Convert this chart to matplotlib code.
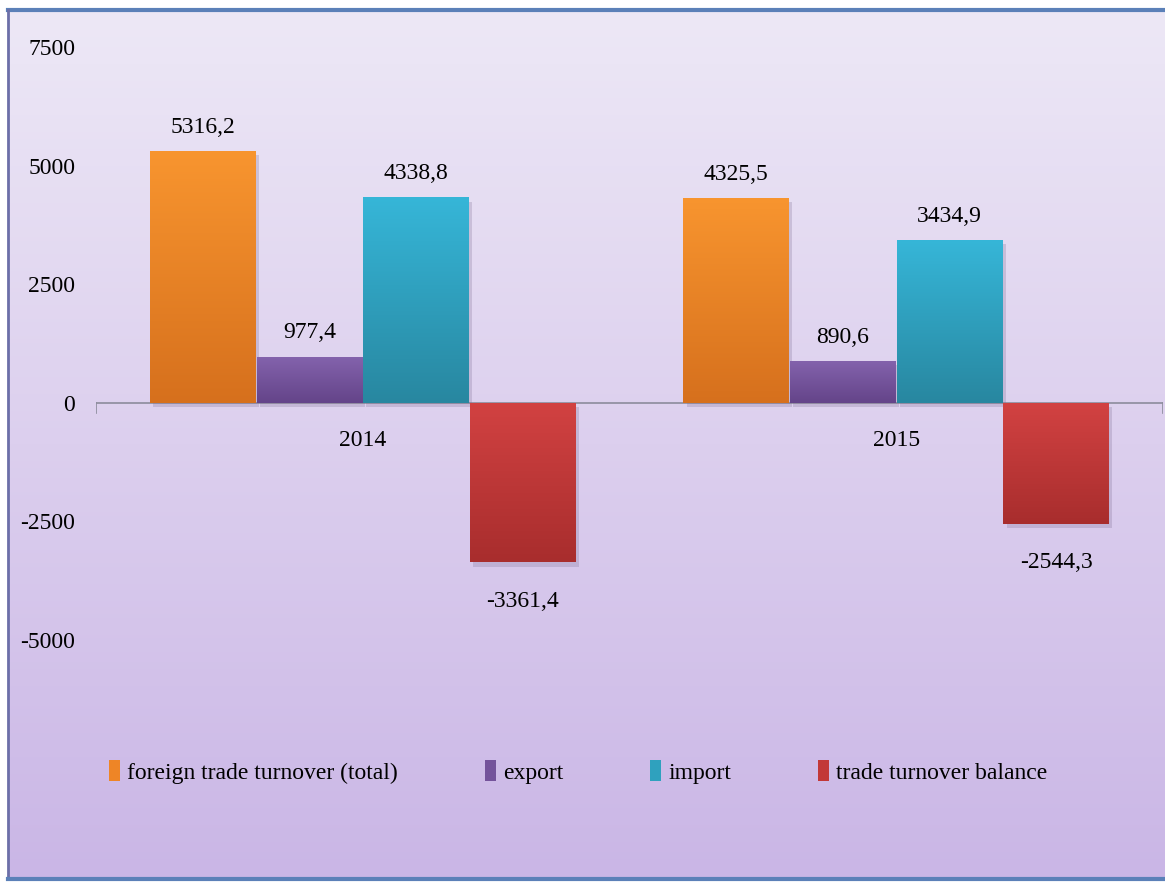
import numpy as np
import matplotlib
matplotlib.use("Agg")
from matplotlib import pyplot as plt
from matplotlib.patches import Patch, Rectangle
from matplotlib.colors import LinearSegmentedColormap

plt.rcParams['font.family'] = ['Liberation Serif', 'DejaVu Serif']

years = ["2014", "2015"]
series_names = ["foreign trade turnover (total)", "export", "import", "trade turnover balance"]
turnover = [5316.2, 4325.5]
export = [977.4, 890.6]
imports = [4338.8, 3434.9]
balance = [-3361.4, -2544.3]
yticks = [-5000, -2500, 0, 2500, 5000, 7500]

# top / bottom colours of each bar gradient
top_colors = ["#F8952F", "#8463AD", "#36B6D8", "#D24242"]
bottom_colors = ["#D6701D", "#644489", "#2887A0", "#A82D2D"]
mid_colors = ["#EE8526", "#74539B", "#2FA1BE", "#C23838"]

fig = plt.figure(figsize=(11.65, 8.82), dpi=100)

# background panel with gradient and blue frame
bg = fig.add_axes([0, 0, 1, 1], zorder=-10)
bg.set_xlim(0, 1165)
bg.set_ylim(882, 0)
bg.axis("off")
grad = np.linspace(0, 1, 256).reshape(-1, 1)
bg_cmap = LinearSegmentedColormap.from_list("bg", ["#EDE8F6", "#DCCFEE", "#CAB6E6"])
bg.imshow(grad, cmap=bg_cmap, extent=[8, 1165, 879, 10], aspect="auto")
bg.plot([8, 1165], [10, 10], color="#5B80B8", lw=3)
bg.plot([8, 8], [10, 879], color="#6C6FA8", lw=2)
bg.plot([8, 1165], [879, 879], color="#5B80B8", lw=3)

ax = fig.add_axes([96 / 1165, 1 - 758.5 / 882, 1067 / 1165, (758.5 - 23.8) / 882])
ax.patch.set_alpha(0)
for s in ["top", "right", "left", "bottom"]:
    ax.spines[s].set_visible(False)
ax.axhline(0, color="#8C8C9C", lw=1.2, zorder=1)
ax.plot([0, 0], [0, -220], color="#8C8C9C", lw=1.2)
ax.plot([2, 2], [0, -220], color="#8C8C9C", lw=1.2)

ax.set_yticks(yticks)
ax.set_yticklabels([str(t) for t in yticks], fontsize=17)
ax.tick_params(axis="y", length=0, pad=15)
ax.set_xticks([])

for i, year in enumerate(years):
    ax.text(i + 0.5, -560, year, ha="center", va="top", fontsize=17)

data = [turnover, export, imports, balance]
width = 0.198
offsets = [-0.3, -0.1, 0.1, 0.3]
for k, values in enumerate(data):
    cmap = LinearSegmentedColormap.from_list("c%d" % k, [top_colors[k], bottom_colors[k]])
    for i, v in enumerate(values):
        x0 = i + 0.5 + offsets[k] - width / 2
        bottom = min(0, v)
        height = abs(v)
        # soft shadow
        ax.add_patch(Rectangle((x0 + 0.006, bottom - 90), width, height, color="#7A6A90", alpha=0.25, lw=0, zorder=2))
        rect = Rectangle((x0, bottom), width, height, facecolor="none", lw=0, zorder=3)
        ax.add_patch(rect)
        img = ax.imshow(grad, cmap=cmap, extent=[x0, x0 + width, bottom, bottom + height],
                        aspect="auto", zorder=3)
        img.set_clip_path(rect)
        label = ("%.1f" % v).replace(".", ",")
        if v >= 0:
            ax.text(x0 + width / 2, v + 280, label, ha="center", va="bottom", fontsize=17)
        else:
            ax.text(x0 + width / 2, v - 600, label, ha="center", va="top", fontsize=17)

ax.set_xlim(0, 2)
ax.set_ylim(-7500, 8000)

handles = [Patch(facecolor=c, edgecolor="none") for c in mid_colors]
fig.legend(handles, series_names, loc="center left", bbox_to_anchor=(88 / 1165, 1 - 772 / 882),
           ncol=4, frameon=False, fontsize=17, handlelength=0.45, handleheight=1.0,
           handletextpad=0.3, columnspacing=3.7)

fig.savefig("out.png", dpi=100)
